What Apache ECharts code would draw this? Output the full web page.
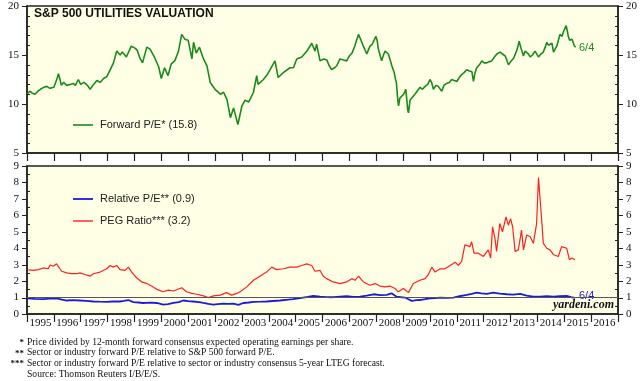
<!DOCTYPE html>
<html><head><meta charset="utf-8">
<script src="https://cdn.jsdelivr.net/npm/echarts@6/dist/echarts.min.js"></script>
<style>html,body{margin:0;padding:0;background:#fff}#c{width:640px;height:381px}</style>
</head><body><div id="c"></div>
<script>
const years = ['1995','1996','1997','1998','1999','2000','2001','2002','2003','2004','2005','2006','2007','2008','2009','2010','2011','2012','2013','2014','2015','2016'];

const forwardPE = [
[1995.00,11.0],[1995.10,11.3],[1995.20,11.1],[1995.30,11.0],[1995.40,11.3],[1995.50,11.5],[1995.62,11.7],[1995.74,11.8],[1995.85,11.6],[1996.00,11.7],
[1996.08,12.3],[1996.12,12.6],[1996.17,13.1],[1996.22,12.6],[1996.28,11.9],[1996.36,12.2],[1996.48,11.9],[1996.60,12.0],[1996.72,12.1],[1996.80,11.9],
[1996.91,12.5],[1997.00,12.0],[1997.12,12.2],[1997.25,11.9],[1997.35,11.5],[1997.48,12.0],[1997.60,12.4],[1997.72,12.2],[1997.85,12.6],[1997.97,12.8],
[1998.10,13.5],[1998.22,14.2],[1998.34,15.4],[1998.47,15.0],[1998.55,15.3],[1998.70,14.8],[1998.88,15.9],[1999.02,15.7],[1999.10,15.5],[1999.20,14.7],
[1999.25,14.6],[1999.30,14.2],[1999.46,15.8],[1999.58,15.6],[1999.74,14.8],[1999.90,13.8],[2000.00,12.6],[2000.12,13.7],[2000.25,12.9],[2000.37,14.1],
[2000.50,14.4],[2000.63,15.3],[2000.76,17.1],[2000.88,16.6],[2001.00,16.5],[2001.14,14.6],[2001.20,16.3],[2001.30,15.2],[2001.42,15.8],[2001.57,14.6],
[2001.70,13.9],[2001.82,12.2],[2002.00,11.5],[2002.20,11.0],[2002.32,11.2],[2002.45,10.4],[2002.57,8.6],[2002.69,9.6],[2002.85,7.9],[2003.00,9.8],
[2003.12,10.4],[2003.25,10.2],[2003.43,11.2],[2003.55,12.9],[2003.60,12.0],[2003.80,12.5],[2003.92,12.9],[2004.05,13.5],[2004.23,14.4],[2004.35,12.7],
[2004.54,13.2],[2004.79,13.7],[2004.92,13.7],[2005.04,14.6],[2005.23,14.8],[2005.42,15.4],[2005.60,16.2],[2005.72,15.4],[2005.78,16.1],[2005.91,14.4],
[2006.05,14.6],[2006.16,14.5],[2006.25,13.9],[2006.34,13.5],[2006.45,13.7],[2006.53,13.9],[2006.65,14.6],[2006.78,14.5],[2006.90,14.4],[2007.00,14.9],
[2007.10,15.2],[2007.20,15.9],[2007.28,16.6],[2007.34,17.1],[2007.42,16.6],[2007.52,15.9],[2007.58,16.1],[2007.65,15.1],[2007.72,15.6],[2007.77,15.9],
[2007.85,16.1],[2007.90,16.4],[2007.99,16.9],[2008.04,16.4],[2008.08,15.6],[2008.14,15.0],[2008.20,14.4],[2008.27,15.0],[2008.33,15.4],[2008.40,15.3],
[2008.45,15.1],[2008.52,14.5],[2008.58,13.9],[2008.66,13.3],[2008.72,12.5],[2008.75,12.2],[2008.80,10.5],[2008.83,9.8],[2008.88,10.6],[2008.95,10.8],
[2009.02,11.0],[2009.07,11.1],[2009.10,11.5],[2009.14,10.4],[2009.17,9.4],[2009.20,9.1],[2009.26,10.4],[2009.33,10.6],[2009.44,11.0],[2009.52,11.3],
[2009.63,11.7],[2009.72,11.5],[2009.82,11.8],[2009.92,12.0],[2010.00,12.5],[2010.06,12.2],[2010.13,11.5],[2010.22,11.9],[2010.31,11.8],[2010.38,11.6],
[2010.44,11.3],[2010.52,11.9],[2010.62,12.1],[2010.72,12.2],[2010.81,12.5],[2010.90,12.4],[2011.00,12.3],[2011.09,12.7],[2011.18,13.0],[2011.27,13.2],
[2011.37,13.5],[2011.45,13.4],[2011.56,13.3],[2011.62,12.3],[2011.68,13.2],[2011.74,13.7],[2011.84,14.0],[2011.93,14.4],[2012.02,14.2],[2012.11,14.2],
[2012.20,14.3],[2012.30,14.4],[2012.40,14.8],[2012.49,15.1],[2012.56,15.0],[2012.61,15.3],[2012.70,15.1],[2012.80,14.9],[2012.86,14.5],[2012.92,14.0],
[2013.00,14.3],[2013.05,14.4],[2013.12,14.7],[2013.17,14.9],[2013.25,15.6],[2013.32,16.4],[2013.40,15.6],[2013.48,14.9],[2013.54,15.4],[2013.60,15.6],
[2013.67,15.1],[2013.73,14.8],[2013.82,15.0],[2013.91,15.4],[2013.98,15.2],[2014.04,14.8],[2014.13,15.1],[2014.22,15.3],[2014.29,15.8],[2014.35,16.3],
[2014.41,16.0],[2014.47,15.9],[2014.54,16.2],[2014.60,15.3],[2014.66,15.6],[2014.72,15.9],[2014.78,16.5],[2014.84,17.1],[2014.92,16.9],[2014.97,17.4],
[2015.03,17.6],[2015.07,18.0],[2015.11,17.5],[2015.15,16.9],[2015.20,16.5],[2015.24,16.3],[2015.29,16.6],[2015.34,16.4],[2015.38,15.9],[2015.43,15.8]
];

const relativePE = [
[1995.00,0.95],[1995.30,0.92],[1995.61,0.9],[1995.85,0.93],[1996.10,0.95],[1996.30,0.88],[1996.48,0.82],[1996.70,0.84],[1996.97,0.82],[1997.20,0.8],
[1997.47,0.76],[1997.70,0.75],[1997.97,0.74],[1998.20,0.76],[1998.46,0.76],[1998.60,0.8],[1998.77,0.85],[1998.96,0.72],[1999.15,0.7],[1999.33,0.67],
[1999.60,0.69],[1999.83,0.67],[2000.07,0.57],[2000.25,0.6],[2000.45,0.67],[2000.65,0.72],[2000.82,0.82],[2001.00,0.78],[2001.19,0.76],[2001.40,0.72],
[2001.57,0.67],[2001.75,0.62],[2001.94,0.57],[2002.10,0.6],[2002.31,0.63],[2002.50,0.62],[2002.68,0.63],[2002.87,0.55],[2003.05,0.67],[2003.25,0.7],
[2003.43,0.74],[2003.70,0.75],[2003.92,0.76],[2004.15,0.79],[2004.42,0.82],[2004.65,0.86],[2004.91,0.9],[2005.10,0.95],[2005.28,1.0],[2005.45,1.04],
[2005.66,1.1],[2005.91,1.05],[2006.15,1.03],[2006.40,1.02],[2006.65,1.05],[2006.90,1.08],[2007.15,1.04],[2007.40,1.05],[2007.65,1.12],[2007.90,1.2],
[2008.15,1.15],[2008.39,1.16],[2008.57,1.26],[2008.76,1.05],[2009.07,1.0],[2009.20,0.9],[2009.32,0.8],[2009.50,0.84],[2009.63,0.85],[2009.82,0.9],
[2010.00,0.95],[2010.20,0.97],[2010.38,1.0],[2010.60,0.98],[2010.87,1.0],[2011.10,1.08],[2011.37,1.16],[2011.55,1.22],[2011.74,1.3],[2011.92,1.25],
[2012.11,1.22],[2012.36,1.3],[2012.60,1.24],[2012.86,1.2],[2013.10,1.18],[2013.36,1.22],[2013.60,1.12],[2013.85,1.05],[2014.10,1.06],[2014.35,1.08],
[2014.60,1.05],[2014.84,1.08],[2015.09,1.1],[2015.25,1.02],[2015.40,0.98]
];

const pegRatio = [
[1995.05,2.68],[1995.24,2.65],[1995.42,2.7],[1995.61,2.8],[1995.79,2.75],[1995.86,2.98],[1995.98,2.9],[1996.10,3.05],[1996.29,2.6],[1996.48,2.5],
[1996.66,2.45],[1996.85,2.45],[1996.97,2.5],[1997.16,2.4],[1997.35,2.3],[1997.47,2.45],[1997.72,2.55],[1997.97,2.75],[1998.09,2.95],[1998.21,2.85],
[1998.34,2.95],[1998.46,2.7],[1998.65,2.65],[1998.77,2.85],[1998.90,2.55],[1999.08,2.2],[1999.27,1.95],[1999.33,2.05],[1999.46,1.85],[1999.64,1.7],
[1999.83,1.5],[2000.07,1.35],[2000.26,1.45],[2000.45,1.4],[2000.76,1.6],[2000.94,1.35],[2001.13,1.25],[2001.32,1.2],[2001.57,1.1],[2001.75,1.0],
[2001.94,1.1],[2002.19,1.15],[2002.43,1.3],[2002.62,1.15],[2002.68,1.05],[2002.81,1.25],[2002.93,1.35],[2003.18,1.65],[2003.43,2.05],[2003.67,2.3],
[2003.92,2.55],[2004.11,2.85],[2004.29,2.7],[2004.54,2.75],[2004.79,2.85],[2005.04,2.85],[2005.23,2.95],[2005.41,3.05],[2005.60,2.95],[2005.72,2.6],
[2005.91,2.65],[2006.03,2.3],[2006.15,2.15],[2006.40,1.95],[2006.65,1.85],[2006.90,1.95],[2007.09,2.15],[2007.21,2.05],[2007.34,2.3],[2007.52,1.95],
[2007.77,1.75],[2007.96,1.85],[2008.14,1.7],[2008.33,1.65],[2008.51,1.7],[2008.70,1.55],[2008.82,1.35],[2009.01,1.55],[2009.20,1.3],[2009.38,1.85],
[2009.63,2.05],[2009.82,2.15],[2009.94,2.4],[2010.07,2.85],[2010.19,2.55],[2010.38,2.75],[2010.56,2.75],[2010.75,2.95],[2010.94,3.15],[2011.06,2.95],
[2011.18,3.2],[2011.30,4.2],[2011.49,4.1],[2011.55,4.4],[2011.64,3.7],[2011.80,3.7],[2011.99,3.5],[2012.17,3.9],[2012.26,3.4],[2012.33,5.3],
[2012.42,4.6],[2012.48,3.8],[2012.60,5.5],[2012.70,5.0],[2012.83,5.9],[2012.92,5.4],[2013.00,5.8],[2013.08,5.3],[2013.17,3.8],[2013.29,3.9],
[2013.41,5.1],[2013.48,3.9],[2013.60,4.8],[2013.73,4.7],[2013.85,4.3],[2013.97,5.5],[2014.04,8.3],[2014.10,8.4],[2014.16,5.7],[2014.22,4.3],
[2014.35,4.0],[2014.47,3.9],[2014.60,3.6],[2014.78,3.5],[2014.90,4.1],[2015.09,4.0],[2015.19,3.3],[2015.28,3.4],[2015.40,3.3]
];

const topTicks = [5, 10, 15, 20];
const bottomTicks = [0, 1, 2, 3, 4, 5, 6, 7, 8, 9];

const footnotes = [
  ['*', 'Price divided by 12-month forward consensus expected operating earnings per share.'],
  ['**', 'Sector or industry forward P/E relative to S&P 500 forward P/E.'],
  ['***', 'Sector or industry forward P/E relative to sector or industry consensus 5-year LTEG forecast.'],
  ['', 'Source: Thomson Reuters I/B/E/S.']
];

const SERIF = '"Liberation Serif","Times New Roman",serif';
const SANS = '"Liberation Sans",Arial,sans-serif';
const BG = '#FFFFE6';
const AX = '#222';
const X_MIN = 1995, X_MAX = 2017;

const gridLayouts = [
  {left:27, right:22, top:6, height:147},
  {left:27, right:22, top:166, height:148}
];

function yAxisOpt(grid, pos, ticks) {
  return {type:'value', gridIndex:grid, position:pos, min:ticks[0], max:ticks[ticks.length-1], interval:ticks[1]-ticks[0],
    axisLine:{show:true, onZero:false, lineStyle:{color:AX, width:1.5}},
    axisTick:{show:false},
    axisLabel:{show:true, margin:8, fontFamily:SERIF, fontSize:11, color:'#111'},
    splitLine:{show:false}};
}

function catAxis(grid, showLabel) {
  return {type:'category', gridIndex:grid, data:years, boundaryGap:true, position:'bottom',
    axisLine:{show:true, onZero:false, lineStyle:{color:AX, width:1.5}},
    axisTick:{show:true, length:8, lineStyle:{color:AX, width:1.2}},
    axisLabel:{show:showLabel, interval:0, margin:4, fontFamily:SERIF, fontSize:11, color:'#111'},
    splitLine:{show:false}};
}

// y-axis tick marks (major outward, minor inward), positioned from each axis's range and the grid layout
function tickElements(gridIdx, ticks, minorPerMajor) {
  const g = gridLayouts[gridIdx];
  const xl = g.left, xr = 640 - g.right;
  const lo = ticks[0], hi = ticks[ticks.length - 1];
  const yOf = v => Math.round(g.top + (hi - v) / (hi - lo) * g.height) + 0.5;
  const els = [];
  const seg = (x1, y, x2) => els.push({type:'line', z:100, silent:true, shape:{x1:x1, y1:y, x2:x2, y2:y}, style:{stroke:AX, lineWidth:1}});
  const step = (ticks[1] - ticks[0]) / minorPerMajor;
  ticks.forEach((t, i) => {
    seg(xl - 5, yOf(t), xl);
    seg(xr, yOf(t), xr + 5);
    if (i < ticks.length - 1) {
      for (let k = 1; k < minorPerMajor; k++) {
        seg(xl, yOf(t + k * step), xl + 3);
        seg(xr - 3, yOf(t + k * step), xr);
      }
    }
  });
  return els;
}

const graphics = [
  {type:'text', left:34, top:8, style:{text:'S&P 500 UTILITIES VALUATION', font:'bold 12px '+SANS, fill:'#111'}},
  {type:'line', shape:{x1:73, y1:125, x2:93, y2:125}, style:{stroke:'#1b8a1b', lineWidth:1.6}},
  {type:'text', left:100, top:119, style:{text:'Forward P/E* (15.8)', font:'11px '+SANS, fill:'#222'}},
  {type:'line', shape:{x1:73, y1:199, x2:93, y2:199}, style:{stroke:'#1a1ae0', lineWidth:1.8}},
  {type:'text', left:100, top:193, style:{text:'Relative P/E** (0.9)', font:'11px '+SANS, fill:'#222'}},
  {type:'line', shape:{x1:73, y1:221, x2:93, y2:221}, style:{stroke:'#ff1f1f', lineWidth:1.4}},
  {type:'text', left:100, top:215, style:{text:'PEG Ratio*** (3.2)', font:'11px '+SANS, fill:'#222'}},
  {type:'text', left:579, top:42, style:{text:'6/4', font:'11px '+SANS, fill:'#1b8a1b'}},
  {type:'text', left:579, top:290, style:{text:'6/4', font:'11px '+SANS, fill:'#1a1ae0'}},
  {type:'text', left:553, top:299, style:{text:'yardeni.com', font:'italic bold 12px '+SERIF, fill:'#111'}}
];
footnotes.forEach((f, i) => {
  const y = 343 + i * 10.7;
  if (f[0]) graphics.push({type:'text', left: 24 - 4.5 * f[0].length, top: y - 5, style:{text:f[0], font:'bold 9px '+SERIF, fill:'#111'}});
  graphics.push({type:'text', left:27, top:y - 6, style:{text:f[1], font:'9.6px '+SERIF, fill:'#111'}});
});
const allGraphics = graphics.concat(tickElements(0, topTicks, 5), tickElements(1, bottomTicks, 2));

const chart = echarts.init(document.getElementById('c'), null, {renderer:'canvas'});
chart.setOption({
  animation:false,
  backgroundColor:'#fff',
  grid:gridLayouts.map(g => Object.assign({show:true, backgroundColor:BG, borderColor:AX, borderWidth:1.5}, g)),
  xAxis:[
    {type:'value', gridIndex:0, min:X_MIN, max:X_MAX, show:false},
    catAxis(0,false),
    {type:'value', gridIndex:1, min:X_MIN, max:X_MAX, show:false},
    catAxis(1,true)
  ],
  yAxis:[yAxisOpt(0,'left',topTicks), yAxisOpt(0,'right',topTicks), yAxisOpt(1,'left',bottomTicks), yAxisOpt(1,'right',bottomTicks)],
  series:[
    {type:'line', name:'Forward P/E', xAxisIndex:0, yAxisIndex:0, data:forwardPE, showSymbol:false, symbol:'none',
     lineStyle:{color:'#1b8a1b', width:1.6}},
    {type:'line', name:'PEG Ratio', xAxisIndex:2, yAxisIndex:2, data:pegRatio, showSymbol:false, symbol:'none',
     lineStyle:{color:'#ff1f1f', width:1.2}},
    {type:'line', name:'Relative P/E', xAxisIndex:2, yAxisIndex:2, data:relativePE, showSymbol:false, symbol:'none',
     lineStyle:{color:'#1a1ae0', width:1.8},
     markLine:{silent:true, symbol:['none','none'], label:{show:false}, lineStyle:{color:'#555', width:1, type:'solid'},
       data:[{yAxis:1}]}}
  ],
  graphic:{elements: allGraphics}
});
</script></body></html>
